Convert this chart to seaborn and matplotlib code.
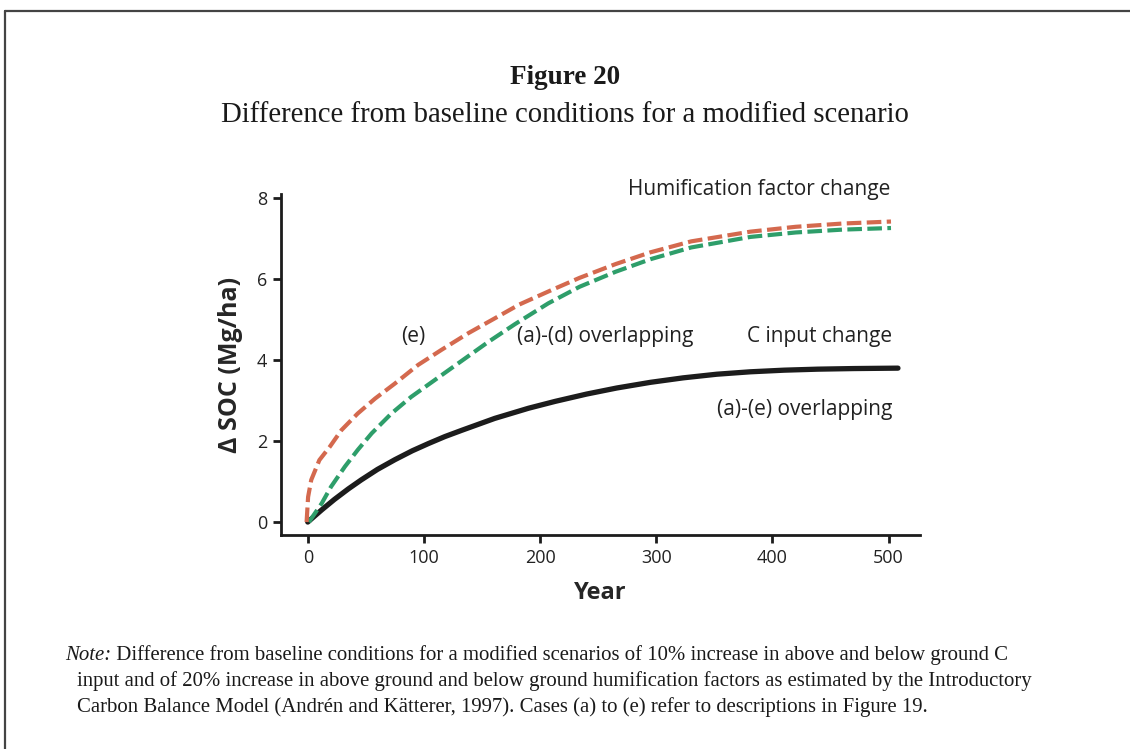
import numpy as np
import pandas as pd
import matplotlib
matplotlib.use("Agg")
import matplotlib.pyplot as plt
from matplotlib.lines import Line2D
import seaborn as sns

sns.set_style("white")
plt.rcParams['font.family'] = ['Open Sans', 'DejaVu Sans']

# C input change, (a)-(e) overlapping
c_years = [0, 12, 23, 35, 46, 60, 75, 90, 104, 118, 133, 161, 190, 213, 240, 266,
           295, 323, 352, 381, 410, 439, 470, 508]
c_soc = [0, 0.3, 0.56, 0.82, 1.04, 1.3, 1.54, 1.76, 1.94, 2.11, 2.27, 2.56, 2.81,
         2.98, 3.16, 3.31, 3.45, 3.56, 3.65, 3.71, 3.75, 3.775, 3.79, 3.8]

# Humification factor change, case (e)
e_years = [-1, 0.3, 3, 10, 19, 29, 43, 58, 75, 95, 115, 138, 161, 182, 210, 234,
           265, 295, 330, 381, 420, 460, 502]
e_soc = [0, 0.62, 1.04, 1.53, 1.86, 2.27, 2.68, 3.05, 3.42, 3.88, 4.25, 4.66, 5.03,
         5.37, 5.73, 6.03, 6.37, 6.66, 6.93, 7.17, 7.29, 7.37, 7.42]

# Humification factor change, (a)-(d) overlapping
ad_years = [1, 12, 20, 32, 43, 55, 72, 89, 109, 132, 155, 178, 207, 234, 265, 295,
            330, 381, 420, 460, 502]
ad_soc = [0, 0.46, 0.87, 1.37, 1.78, 2.19, 2.68, 3.09, 3.5, 3.97, 4.44, 4.88, 5.4,
          5.81, 6.18, 6.49, 6.78, 7.04, 7.15, 7.22, 7.26]

orange = '#d4694e'
green = '#2e9e6a'
ink = '#1c1c1c'

fig = plt.figure(figsize=(11.3, 7.49), dpi=100)
ax = fig.add_axes([0.2487, 0.2857, 0.5655, 0.4553])

sns.lineplot(x=c_years, y=c_soc, ax=ax, color=ink, lw=3.8, sort=False)
sns.lineplot(x=ad_years, y=ad_soc, ax=ax, color=green, lw=3, sort=False)
ax.lines[-1].set_dashes((3.5, 1.3))
sns.lineplot(x=e_years, y=e_soc, ax=ax, color=orange, lw=3, sort=False)
ax.lines[-1].set_dashes((3.5, 1.3))

ax.set_xlim(-23, 527)
ax.set_ylim(-0.32, 8.1)
ax.set_xticks([0, 100, 200, 300, 400, 500])
ax.set_yticks([0, 2, 4, 6, 8])
sns.despine(ax=ax)
for s in ['left', 'bottom']:
    ax.spines[s].set_color(ink)
    ax.spines[s].set_linewidth(2)
ax.tick_params(axis='both', direction='out', length=6, width=2, color=ink,
               labelsize=13, labelcolor='#222222', pad=4,
               left=True, bottom=True)

ax.set_xlabel('Year', fontsize=17, fontweight='bold', labelpad=10)
ax.set_ylabel('\u0394 SOC (Mg/ha)', fontsize=18, fontweight='bold', labelpad=10)

lab = dict(fontsize=15, color='#222222', va='center', clip_on=False)
ax.text(501.7, 8.2, 'Humification factor change', ha='right', **lab)
ax.text(90.5, 4.57, '(e)', ha='center', **lab)
ax.text(180, 4.57, '(a)-(d) overlapping', ha='left', **lab)
ax.text(503, 4.57, 'C input change', ha='right', **lab)
ax.text(503, 2.79, '(a)-(e) overlapping', ha='right', **lab)

serif = ['Liberation Serif', 'DejaVu Serif']
fig.text(0.5, 1 - 78 / 749, 'Figure 20', ha='center', va='center',
         fontsize=19.5, fontweight='bold', family=serif, color='#1a1a1a')
fig.text(0.5, 1 - 115 / 749, 'Difference from baseline conditions for a modified scenario',
         ha='center', va='center', fontsize=20.7, family=serif, color='#1a1a1a')

note_size = 14.95
note = fig.text(65 / 1130, 1 - 660 / 749, 'Note:', ha='left', va='baseline',
                fontsize=note_size, style='italic', family=serif, color='#1a1a1a')
ax.annotate(' Difference from baseline conditions for a modified scenarios of 10% increase in above and below ground C',
            xy=(1, 0), xycoords=note, va='bottom', ha='left',
            fontsize=note_size, family=serif, color='#1a1a1a', annotation_clip=False)
note_lines = [
    'input and of 20% increase in above ground and below ground humification factors as estimated by the Introductory',
    'Carbon Balance Model (Andr\u00e9n and K\u00e4tterer, 1997). Cases (a) to (e) refer to descriptions in Figure 19.',
]
for i, line in enumerate(note_lines):
    fig.text(77 / 1130, 1 - (686 + 26 * i) / 749, line, ha='left', va='baseline',
             fontsize=note_size, family=serif, color='#1a1a1a')

# frame round the figure box
fig.add_artist(Line2D([5 / 1130, 1], [1 - 11 / 749, 1 - 11 / 749],
                      transform=fig.transFigure, color='#444444', lw=1.6))
fig.add_artist(Line2D([5 / 1130, 5 / 1130], [0, 1 - 11 / 749],
                      transform=fig.transFigure, color='#444444', lw=1.6))

fig.savefig('out.png', dpi=100)
